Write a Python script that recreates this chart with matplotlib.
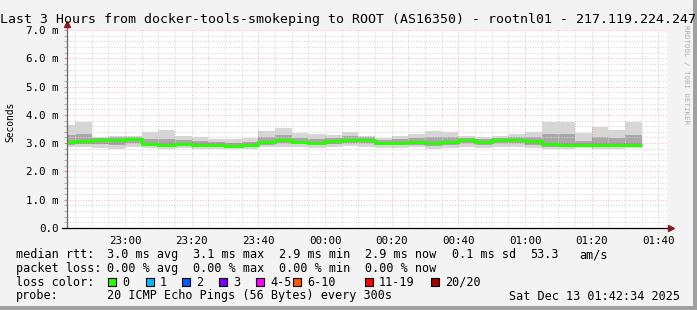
import numpy as np
import pandas as pd
import matplotlib
matplotlib.use("Agg")
import matplotlib.pyplot as plt
import matplotlib.dates as mdates
from matplotlib.patches import Rectangle

plt.rcParams['font.family'] = ['DejaVu Sans Mono']

# --- данные (мс), 5-минутные шаги, первый шаг неполный ---
t_start = pd.Timestamp('2025-12-12 22:42:34')
t_end = pd.Timestamp('2025-12-13 01:42:34')
step_times = pd.date_range('2025-12-12 22:45', periods=35, freq='5min')

median_ms = [3.05, 3.09, 3.10, 3.10, 3.14, 2.98, 2.94, 2.98, 2.94, 2.93, 2.90, 2.92,
             3.05, 3.10, 3.05, 3.00, 3.07, 3.12, 3.12, 3.00, 3.02, 3.05, 3.00, 3.05,
             3.10, 3.03, 3.10, 3.10, 3.07, 2.98, 2.93, 2.93, 2.92, 2.92, 2.94]
max_ms = [3.64, 3.74, 3.23, 3.26, 3.26, 3.40, 3.46, 3.26, 3.20, 3.15, 3.14, 3.19,
          3.43, 3.55, 3.35, 3.31, 3.29, 3.38, 3.26, 3.19, 3.24, 3.33, 3.44, 3.40,
          3.26, 3.22, 3.25, 3.31, 3.38, 3.74, 3.76, 3.35, 3.58, 3.46, 3.74]
hi_ms = [3.30, 3.34, 3.18, 3.20, 3.20, 3.16, 3.16, 3.10, 3.06, 3.03, 3.00, 3.04,
         3.23, 3.30, 3.19, 3.14, 3.17, 3.24, 3.20, 3.10, 3.14, 3.19, 3.20, 3.21,
         3.18, 3.13, 3.18, 3.20, 3.21, 3.33, 3.31, 3.08, 3.22, 3.17, 3.29]
lo_ms = [2.95, 2.97, 2.96, 2.94, 3.00, 2.90, 2.87, 2.90, 2.87, 2.86, 2.84, 2.86,
         2.95, 3.00, 2.96, 2.92, 2.96, 3.02, 3.00, 2.92, 2.92, 2.95, 2.90, 2.95,
         3.00, 2.94, 3.00, 3.00, 2.95, 2.88, 2.86, 2.87, 2.86, 2.86, 2.87]
min_ms = [2.87, 2.85, 2.82, 2.78, 2.87, 2.82, 2.78, 2.82, 2.80, 2.80, 2.78, 2.80,
          2.85, 2.88, 2.86, 2.84, 2.86, 2.90, 2.88, 2.84, 2.82, 2.85, 2.80, 2.84,
          2.88, 2.84, 2.86, 2.86, 2.84, 2.80, 2.80, 2.82, 2.80, 2.80, 2.82]

loss_labels = ['0', '1', '2', '3', '4-5', '6-10', '11-19', '20/20']
loss_colors = ['#26ff00', '#00b8ff', '#0059ff', '#7e00ff', '#ff00ff', '#ff5500', '#ff0000', '#a10000']

title = 'Last 3 Hours from docker-tools-smokeping to ROOT (AS16350) - rootnl01 - 217.119.224.247'

W, H = 697, 310
fig = plt.figure(figsize=(W / 100, H / 100), dpi=100, facecolor='#f3f3f3')


def fx(px):
    return px / W


def fy(py):
    return 1 - py / H


ax = fig.add_axes([fx(67), fy(228), 600 / W, 198 / H])
ax.set_facecolor('white')

edges = mdates.date2num([t_start.to_pydatetime()] + [t.to_pydatetime() for t in step_times])

# дым: внешний диапазон и внутренняя часть
ax.stairs(max_ms, edges, baseline=min_ms, fill=True, color='#d6d6d6', zorder=1)
ax.stairs(hi_ms, edges, baseline=lo_ms, fill=True, color='#a8a8a8', zorder=1.2)
# медиана
ax.stairs(median_ms, edges, baseline=None, color=loss_colors[0], lw=2.1, zorder=3)

ax.set_xlim(mdates.date2num(t_start.to_pydatetime()), mdates.date2num(t_end.to_pydatetime()))
ax.set_ylim(0, 7)

ax.xaxis.set_major_locator(mdates.MinuteLocator(byminute=[0, 20, 40]))
ax.xaxis.set_minor_locator(mdates.MinuteLocator(byminute=range(0, 60, 5)))
ax.xaxis.set_major_formatter(mdates.DateFormatter('%H:%M'))
ax.yaxis.set_major_locator(plt.MultipleLocator(1.0))
ax.yaxis.set_minor_locator(plt.MultipleLocator(0.2))
ax.yaxis.set_major_formatter(plt.FuncFormatter(lambda v, p: '0.0' if v == 0 else f'{v:.1f} m'))

dots = (0, (1, 1.6))
ax.grid(which='minor', color='#d4d4d4', linestyle=dots, lw=0.72, zorder=2)
ax.grid(which='major', color='#ff0000', alpha=0.3, linestyle=dots, lw=0.72, zorder=2)
ax.set_axisbelow(False)

ax.tick_params(axis='x', which='both', length=0, pad=6, labelsize=7.8)
ax.tick_params(axis='y', which='major', length=2, color='#ff8080', pad=4, labelsize=7.8)
ax.tick_params(axis='y', which='minor', length=2, color='#a0a0a0')

for s in ax.spines.values():
    s.set_visible(False)

# оси со стрелками
ax.plot([0, 0], [0, 1.025], transform=ax.transAxes, color='#666666', lw=0.9, clip_on=False, zorder=4)
ax.plot([-0.008, 1.004], [0, 0], transform=ax.transAxes, color='#000000', lw=0.9, clip_on=False, zorder=4)
ax.plot([0], [1.032], transform=ax.transAxes, marker='^', ms=5, color='#8b1a1a', clip_on=False, zorder=5)
ax.plot([1.007], [0], transform=ax.transAxes, marker='>', ms=5, color='#8b1a1a', clip_on=False, zorder=5)

# тексты
fig.text(0.5, fy(23), title, ha='center', va='baseline', fontsize=9.5)
fig.text(fx(10.5), fy(122), 'Seconds', rotation=90, ha='center', va='center', fontsize=6.9)
fig.text(fx(686), fy(25), 'RRDTOOL / TOBI OETIKER', rotation=270, ha='center', va='top',
         fontsize=5.3, color='#b0b0b0')

fs = 8.5
rows = [258, 272, 285.5, 299.5]
fig.text(fx(16), fy(rows[0]), 'median rtt:', va='baseline', fontsize=fs)
for x, s in [(107, '3.0 ms avg'), (193, '3.1 ms max'), (279, '2.9 ms min'),
             (365, '2.9 ms now'), (452, '0.1 ms sd'), (530, '53.3'), (579, 'am/s')]:
    fig.text(fx(x), fy(rows[0]), s, va='baseline', fontsize=fs)
fig.text(fx(16), fy(rows[1]), 'packet loss:', va='baseline', fontsize=fs)
for x, s in [(107, '0.00 % avg'), (193, '0.00 % max'), (279, '0.00 % min'), (365, '0.00 % now')]:
    fig.text(fx(x), fy(rows[1]), s, va='baseline', fontsize=fs)

fig.text(fx(16), fy(rows[2]), 'loss color:', va='baseline', fontsize=fs)
box_x = [108, 146, 182, 219, 256, 293, 365, 431]
for bx, lab, col in zip(box_x, loss_labels, loss_colors):
    fig.patches.append(Rectangle((fx(bx), fy(rows[2] + 0.5)), 8 / W, 8.5 / H, transform=fig.transFigure,
                                 facecolor=col, edgecolor='black', lw=0.8))
    fig.text(fx(bx + 14), fy(rows[2]), lab, va='baseline', fontsize=fs)

fig.text(fx(16), fy(rows[3]), 'probe:', va='baseline', fontsize=fs)
fig.text(fx(107), fy(rows[3]), '20 ICMP Echo Pings (56 Bytes) every 300s', va='baseline', fontsize=fs)
fig.text(fx(680), fy(rows[3]), 'Sat Dec 13 01:42:34 2025', ha='right', va='baseline', fontsize=fs)

# рамка
fig.patches.append(Rectangle((fx(693), 0), 4 / W, 1, transform=fig.transFigure, color='#a0a0a0', lw=0))
fig.patches.append(Rectangle((0, 0), 1, 4 / H, transform=fig.transFigure, color='#a0a0a0', lw=0))

fig.savefig('out.png', dpi=100, facecolor=fig.get_facecolor())
